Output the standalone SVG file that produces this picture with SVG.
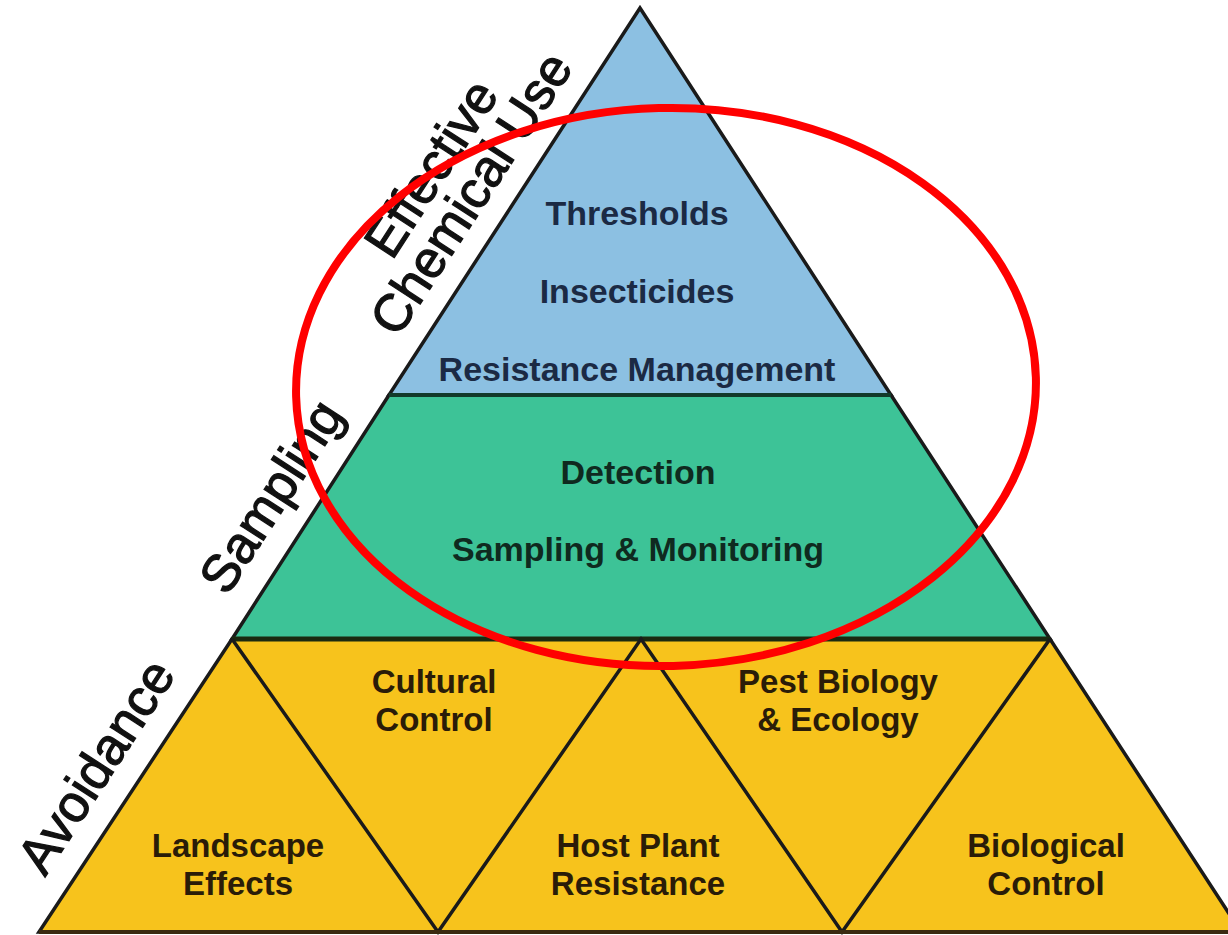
<svg xmlns="http://www.w3.org/2000/svg" width="1228" height="935" viewBox="0 0 1228 935">
<style>
.edge{stroke:#1a1a1a;stroke-width:3.5;stroke-linejoin:miter}
.lbl{font-family:"Liberation Sans",Arial,sans-serif;font-weight:bold;text-anchor:middle}
.blue{fill:#1b2a44;font-size:34px}
.green{fill:#0f2a1f;font-size:34px}
.yel{fill:#2a1c08;font-size:33px}
.side{font-family:"Liberation Sans",Arial,sans-serif;font-size:52px;fill:#111;stroke:#111;stroke-width:1.2;text-anchor:middle}
</style>
<rect width="1228" height="935" fill="#ffffff"/>
<g id="tier-chemical">
<polygon class="edge" points="640,8 891,395 389,395" fill="#8cc0e2"/>
<text class="lbl blue" x="637" y="225">Thresholds</text>
<text class="lbl blue" x="637" y="303">Insecticides</text>
<text class="lbl blue" x="637" y="381">Resistance Management</text>
</g>
<g id="tier-sampling">
<polygon class="edge" points="389,395 891,395 1050,639 232,639" fill="#3dc397"/>
<line x1="389" y1="395" x2="891" y2="395" stroke="#123a2a" stroke-width="4"/>
<text class="lbl green" x="638" y="484">Detection</text>
<text class="lbl green" x="638" y="561">Sampling &amp; Monitoring</text>
</g>
<g id="tier-avoidance">
<polygon class="edge" points="232,639 1050,639 1241,932 39,932" fill="#f7c31c"/>
<line x1="232" y1="639" x2="1050" y2="639" stroke="#1a2a10" stroke-width="5"/>
</g>
<g id="connectors">
<polyline class="edge" fill="none" points="232,639 438,932 641,639 842,932 1050,639"/>
<line x1="39" y1="932" x2="1228" y2="932" stroke="#3a2a10" stroke-width="4"/>
</g>
<g id="node-landscape"><text class="lbl yel" x="238" y="857">Landscape</text><text class="lbl yel" x="238" y="895">Effects</text></g>
<g id="node-cultural"><text class="lbl yel" x="434" y="693">Cultural</text><text class="lbl yel" x="434" y="731">Control</text></g>
<g id="node-hostplant"><text class="lbl yel" x="638" y="857">Host Plant</text><text class="lbl yel" x="638" y="895">Resistance</text></g>
<g id="node-pestbio"><text class="lbl yel" x="838" y="693">Pest Biology</text><text class="lbl yel" x="838" y="731">&amp; Ecology</text></g>
<g id="node-biocontrol"><text class="lbl yel" x="1046" y="857">Biological</text><text class="lbl yel" x="1046" y="895">Control</text></g>
<g id="side-labels">
<text class="side" transform="translate(446,178) rotate(-57)">Effective</text>
<text class="side" transform="translate(486,203) rotate(-57)">Chemical Use</text>
<text class="side" transform="translate(286,506) rotate(-57)">Sampling</text>
<text class="side" transform="translate(111,776) rotate(-57)">Avoidance</text>
</g>
<g id="highlight">
<ellipse cx="666" cy="387" rx="370" ry="279" transform="rotate(-1.5 666 387)" fill="none" stroke="#ff0000" stroke-width="8"/>
</g>
</svg>
